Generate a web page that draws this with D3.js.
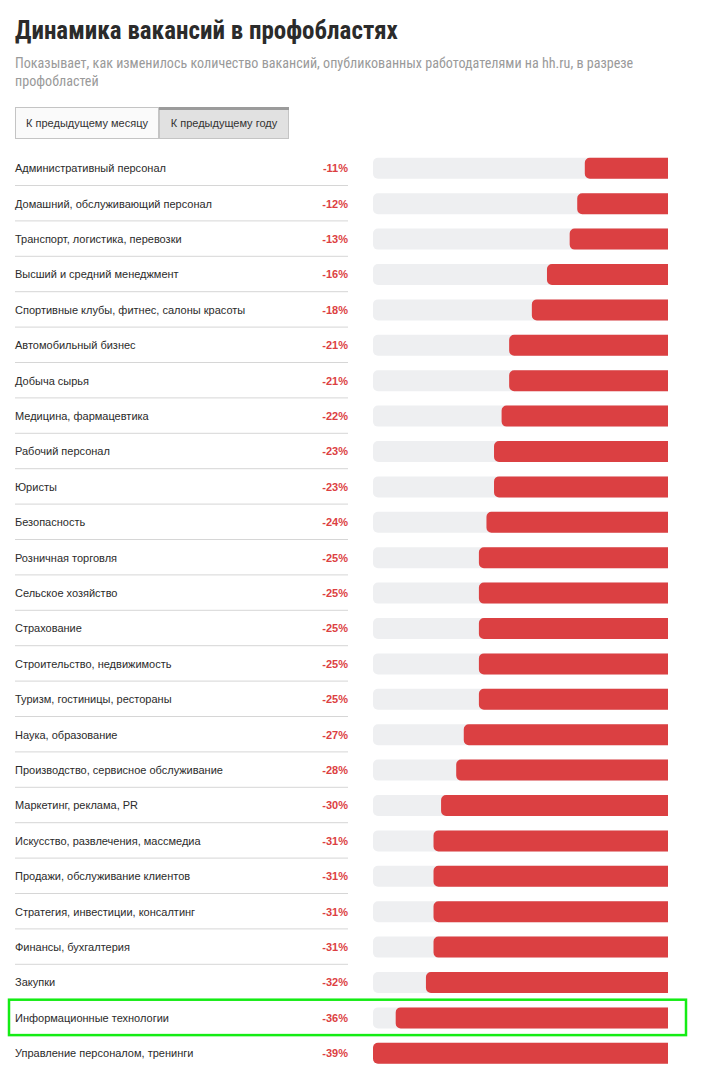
<!DOCTYPE html>
<html>
<head>
<meta charset="utf-8">
<script src="https://cdn.jsdelivr.net/npm/d3@7"></script>
<style>
  body { margin: 0; background: #fff; }
  svg { display: block; }
</style>
</head>
<body>
<svg id="chart" width="702" height="1086"></svg>
<script>
// профобласти и изменение количества вакансий к предыдущему году, %
const categories = [
  'Административный персонал',
  'Домашний, обслуживающий персонал',
  'Транспорт, логистика, перевозки',
  'Высший и средний менеджмент',
  'Спортивные клубы, фитнес, салоны красоты',
  'Автомобильный бизнес',
  'Добыча сырья',
  'Медицина, фармацевтика',
  'Рабочий персонал',
  'Юристы',
  'Безопасность',
  'Розничная торговля',
  'Сельское хозяйство',
  'Страхование',
  'Строительство, недвижимость',
  'Туризм, гостиницы, рестораны',
  'Наука, образование',
  'Производство, сервисное обслуживание',
  'Маркетинг, реклама, PR',
  'Искусство, развлечения, массмедиа',
  'Продажи, обслуживание клиентов',
  'Стратегия, инвестиции, консалтинг',
  'Финансы, бухгалтерия',
  'Закупки',
  'Информационные технологии',
  'Управление персоналом, тренинги'
]
const values = [-11, -12, -13, -16, -18, -21, -21, -22, -23, -23, -24, -25, -25, -25, -25, -25, -27, -28, -30, -31, -31, -31, -31, -32, -36, -39]
const tabs = ['К предыдущему месяцу', 'К предыдущему году']
const highlighted = 'Информационные технологии'

const title = 'Динамика вакансий в профобластях'
const subtitle = [
  'Показывает, как изменилось количество вакансий, опубликованных работодателями на hh.ru, в разрезе',
  'профобластей'
]

const data = categories.map((c, i) => ({ name: c, value: values[i] }))

const svg = d3.select('#chart')
const narrow = '"Liberation Sans Narrow", "Roboto Condensed", "Arial Narrow", Roboto, sans-serif'
const sans = '"Liberation Sans", Arial, sans-serif'

//======== заголовок ========//
svg.append('text')
  .attr('x', 15).attr('y', 39)
  .attr('font-family', narrow)
  .attr('font-weight', 'bold')
  .attr('font-size', 25)
  .attr('fill', '#2b2b2b')
  .text(title)

svg.append('g')
  .selectAll('text')
  .data(subtitle)
  .join('text')
  .attr('x', 15)
  .attr('y', (d, i) => 68 + i * 18)
  .attr('font-family', narrow)
  .attr('font-size', 14.1)
  .attr('fill', '#9a9a9a')
  .text(d => d)

//======== переключатель ========//
{
  const tabX = d3.scaleOrdinal().domain(tabs).range([15, 159])
  const tabW = d3.scaleOrdinal().domain(tabs).range([144, 130])
  const g = svg.append('g').attr('transform', 'translate(0, 107)')
  const tab = g.selectAll('g.tab')
    .data(tabs)
    .join('g')
    .classed('tab', true)
    .attr('transform', d => `translate(${tabX(d)}, 0)`)
  tab.append('rect')
    .attr('x', 0.5).attr('y', 0.5)
    .attr('width', d => tabW(d) - 1)
    .attr('height', 31)
    .attr('fill', (d, i) => i === 1 ? '#e1e1e1' : '#fafafa')
    .attr('stroke', '#c4c4c4')
  tab.filter((d, i) => i === 1)
    .append('rect')
    .attr('x', 0).attr('y', 0)
    .attr('width', d => tabW(d))
    .attr('height', 3)
    .attr('fill', '#9b9b9b')
  tab.append('text')
    .attr('x', d => tabW(d) / 2)
    .attr('y', 20)
    .attr('text-anchor', 'middle')
    .attr('font-family', sans)
    .attr('font-size', 11)
    .attr('fill', '#333')
    .text(d => d)
}

//======== строки ========//
const y = d3.scaleBand()
  .domain(categories)
  .range([150.6, 150.6 + 35.4 * categories.length])

const barLeft = 373
const barRight = 668
const x = d3.scaleLinear()
  .domain([0, d3.max(values, v => Math.abs(v))])
  .range([0, barRight - barLeft])

const barH = 21
const r = 5

const row = svg.append('g')
  .selectAll('g.row')
  .data(data)
  .join('g')
  .classed('row', true)
  .attr('transform', d => `translate(0, ${y(d.name)})`)

const mid = y.bandwidth() / 2

// разделители
row.filter((d, i) => i < data.length - 1)
  .append('line')
  .attr('x1', 15).attr('x2', 348)
  .attr('y1', y.bandwidth() - 0.5).attr('y2', y.bandwidth() - 0.5)
  .attr('stroke', '#d6d6d6')

row.append('text')
  .attr('x', 15)
  .attr('y', mid + 4)
  .attr('font-family', sans)
  .attr('font-size', 11)
  .attr('fill', '#2b2b2b')
  .text(d => d.name)

row.append('text')
  .attr('x', 348)
  .attr('y', mid + 4)
  .attr('text-anchor', 'end')
  .attr('font-family', sans)
  .attr('font-size', 11)
  .attr('font-weight', 'bold')
  .attr('fill', '#dc3f42')
  .text(d => `${d.value}%`)

// левые углы скруглены, правый край прямой
const leftRounded = (x0, w, h) =>
  `M${x0 + w},0H${x0 + r}A${r},${r} 0 0 0 ${x0},${r}V${h - r}A${r},${r} 0 0 0 ${x0 + r},${h}H${x0 + w}Z`

row.append('path')
  .attr('transform', `translate(0, ${mid - barH / 2})`)
  .attr('d', () => leftRounded(barLeft, barRight - barLeft, barH))
  .attr('fill', '#eeeff1')

row.append('path')
  .attr('transform', `translate(0, ${mid - barH / 2})`)
  .attr('d', d => {
    const w = x(Math.abs(d.value))
    return leftRounded(barRight - w, w, barH)
  })
  .attr('fill', '#db4042')

//======== выделение ========//
svg.append('rect')
  .attr('x', 9)
  .attr('y', y(highlighted) - 0.5)
  .attr('width', 677)
  .attr('height', y.bandwidth())
  .attr('fill', 'none')
  .attr('stroke', '#14ec14')
  .attr('stroke-width', 2.5)
</script>
</body>
</html>
